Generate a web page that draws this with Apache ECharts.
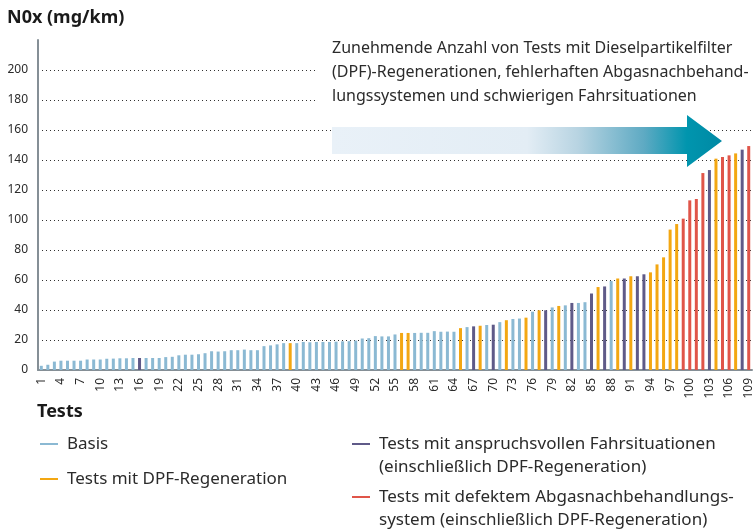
<!DOCTYPE html>
<html>
<head>
<meta charset="utf-8">
<script src="https://cdn.jsdelivr.net/npm/echarts@6/dist/echarts.min.js"></script>
<style>
  html, body { margin: 0; padding: 0; background: #fff; }
  #nox { width: 755px; height: 532px; }
</style>
</head>
<body>
<div id="nox"></div>
<script>
// NOx-Werte je Test (mg/km), Test 1..109
const tests = [];
for (let i = 1; i <= 109; i++) tests.push(String(i));

const noxValues = [
  2.8, 3.5, 5.6, 6.2, 6.2, 6.2, 6.2, 7.0, 7.0, 7.0,
  7.5, 7.6, 7.8, 7.8, 8.0, 8.0, 8.0, 8.0, 8.0, 8.6,
  8.8, 9.8, 10.2, 10.2, 10.5, 11.2, 12.5, 12.3, 12.5, 13.2,
  13.2, 13.6, 13.2, 13.2, 15.9, 16.4, 17.1, 17.9, 17.9, 17.9,
  18.7, 18.5, 18.7, 18.7, 18.7, 18.9, 19.1, 19.2, 19.6, 21.0,
  21.2, 22.6, 22.4, 22.4, 23.7, 24.7, 24.7, 24.7, 24.8, 24.8,
  25.9, 25.5, 25.6, 25.5, 27.9, 28.6, 29.1, 29.5, 30.0, 30.2,
  31.9, 33.2, 34.0, 34.3, 34.9, 38.9, 39.8, 39.8, 41.7, 42.7,
  43.1, 44.7, 44.7, 45.2, 51.0, 55.3, 55.7, 59.3, 61.0, 61.0,
  62.5, 62.5, 63.8, 65.1, 70.4, 75.1, 93.6, 97.3, 100.9, 113.1,
  114.0, 131.3, 133.3, 140.9, 142.0, 143.1, 144.4, 146.9, 149.3
];

// B = Basis, D = DPF-Regeneration, A = anspruchsvolle Fahrsituation, F = defektes System
const testGroups = [
  'B','B','B','B','B','B','B','B','B','B',
  'B','B','B','B','B','A','B','B','B','B',
  'B','B','B','B','B','B','B','B','B','B',
  'B','B','B','B','B','B','B','B','D','B',
  'B','B','B','B','B','B','B','B','B','B',
  'B','B','B','B','B','D','D','B','B','B',
  'B','B','B','B','D','B','A','D','B','A',
  'B','D','B','B','D','B','D','A','B','D',
  'B','A','B','B','A','D','A','B','D','A',
  'D','A','A','D','D','D','D','D','F','F',
  'F','F','A','D','F','F','D','A','F'
];

const yTicks = [0, 20, 40, 60, 80, 100, 120, 140, 160, 180, 200];

const groupColors = { B: '#8bb9d3', D: '#f3a712', A: '#5f5a88', F: '#e05549' };
const legendItems = [
  { key: 'B', lines: ['Basis'], x: 40, y: 444 },
  { key: 'D', lines: ['Tests mit DPF-Regeneration'], x: 40, y: 479 },
  { key: 'A', lines: ['Tests mit anspruchsvollen Fahrsituationen', '(einschließlich DPF-Regeneration)'], x: 352, y: 444 },
  { key: 'F', lines: ['Tests mit defektem Abgasnachbehandlungs-', 'system (einschließlich DPF-Regeneration)'], x: 352, y: 497 }
];

const FONT = 'Noto Sans';

let chart = echarts.init(document.getElementById('nox'), null, { renderer: 'canvas' });

const barData = noxValues.map((v, i) => ({
  value: v,
  itemStyle: { color: groupColors[testGroups[i]] }
}));

// Legende + Beschriftungen als graphic
const graphics = [
  // oberste Gitterlinie (220) ausblenden, nur die Achse reicht bis dorthin
  { type: 'rect', left: 40, top: 38, shape: { width: 715, height: 4 }, style: { fill: '#fff' }, z: 50 },
  // weisser Kasten hinter dem Hinweistext (unterbricht die Gitterlinien)
  { type: 'rect', left: 318, top: 34, shape: { width: 437, height: 78 }, style: { fill: '#fff' }, z: 50 },
  {
    type: 'text', left: 332, top: 36, z: 60,
    style: {
      text: 'Zunehmende Anzahl von Tests mit Dieselpartikelfilter\n(DPF)-Regenerationen, fehlerhaften Abgasnachbehand-\nlungssystemen und schwierigen Fahrsituationen',
      font: '16px "' + FONT + '"', fill: '#2b2b2b', lineHeight: 24
    }
  },
  {
    type: 'polygon', z: 60,
    shape: { points: [[332, 127], [687, 127], [687, 115], [722, 141], [687, 167], [687, 154], [332, 154]] },
    style: {
      fill: {
        type: 'linear', x: 0, y: 0, x2: 1, y2: 0,
        colorStops: [
          { offset: 0, color: '#e9f1f8' },
          { offset: 0.5, color: '#e3edf5' },
          { offset: 0.63, color: '#b8d4e2' },
          { offset: 0.8, color: '#5eaac3' },
          { offset: 0.91, color: '#0095ae' },
          { offset: 1, color: '#0089a4' }
        ]
      }
    }
  },
  {
    type: 'text', left: 7, top: 9, z: 60,
    style: { text: 'N0x (mg/km)', font: 'bold 18px "' + FONT + '"', fill: '#1a1a1a' }
  },
  {
    type: 'text', left: 37, top: 403, z: 60,
    style: { text: 'Tests', font: 'bold 18px "' + FONT + '"', fill: '#1a1a1a' }
  }
];

legendItems.forEach((item) => {
  graphics.push({
    type: 'line', z: 60,
    shape: { x1: item.x, y1: item.y, x2: item.x + 18, y2: item.y },
    style: { stroke: groupColors[item.key], lineWidth: 2 }
  });
  item.lines.forEach((line, k) => {
    graphics.push({
      type: 'text', left: item.x + 27, top: item.y - 8 + k * 23, z: 60,
      style: { text: line, font: '17px "' + FONT + '"', fill: '#2b2b2b' }
    });
  });
});

let options = {
  backgroundColor: '#fff',
  animation: false,
  textStyle: { fontFamily: FONT },
  grid: { left: 38, right: 3, top: 40, bottom: 162, containLabel: false },
  xAxis: {
    type: 'category',
    data: tests,
    boundaryGap: true,
    axisLine: { show: true, lineStyle: { color: '#858f96', width: 2 } },
    axisTick: { show: false },
    axisLabel: {
      interval: 2,
      rotate: 90,
      fontSize: 12,
      color: '#2b2b2b',
      margin: 8
    },
    splitLine: { show: false }
  },
  yAxis: {
    type: 'value',
    min: 0,
    max: 220,
    interval: 20,
    axisLine: { show: true, lineStyle: { color: '#858f96', width: 2 } },
    axisTick: { show: false },
    axisLabel: {
      fontSize: 12,
      color: '#2b2b2b',
      margin: 10,
      formatter: (v) => (yTicks.indexOf(v) >= 0 ? String(v) : '')
    },
    splitLine: {
      show: true,
      lineStyle: { color: '#333', type: [1, 3], width: 1 }
    }
  },
  series: [
    {
      name: 'NOx',
      type: 'bar',
      data: barData,
      barWidth: 3
    }
  ],
  graphic: graphics
};

chart.setOption(options);
</script>
</body>
</html>
